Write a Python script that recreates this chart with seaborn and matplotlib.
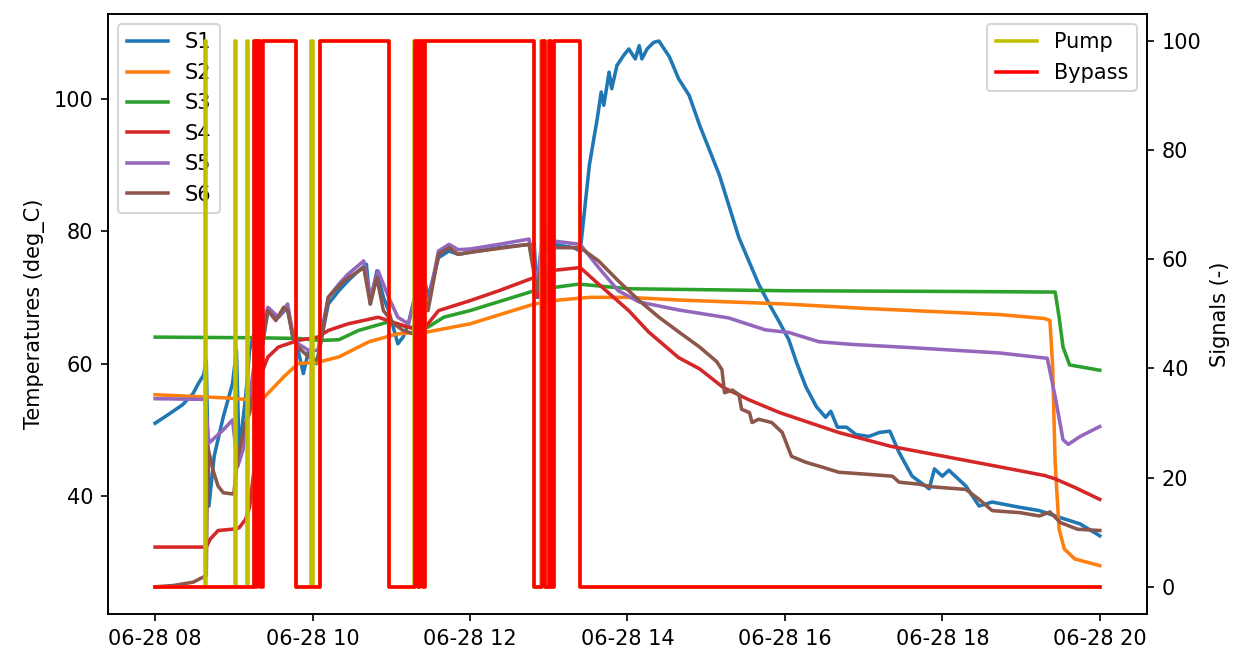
import matplotlib
matplotlib.use("Agg")
import matplotlib.pyplot as plt
import matplotlib.dates as mdates
import pandas as pd
import seaborn as sns

DAY = "2018-06-28 "

# temperatures (time of day, deg C)
s1_t = ["08:00", "08:10", "08:21", "08:29", "08:33", "08:37", "08:39", "08:41", "08:45", "08:52",
        "08:59", "09:02", "09:04", "09:09", "09:12", "09:16", "09:22", "09:26", "09:34", "09:41",
        "09:45", "09:49", "09:53", "09:57", "10:03", "10:06", "10:12", "10:20", "10:27", "10:35",
        "10:41", "10:44", "10:49", "10:54", "10:58", "11:05", "11:09", "11:13", "11:19", "11:25",
        "11:28", "11:36", "11:44", "11:51", "12:00", "12:22", "12:45", "12:49", "12:51", "12:56",
        "13:04", "13:19", "13:24", "13:31", "13:37", "13:40", "13:42", "13:46", "13:48", "13:52",
        "13:57", "14:01", "14:06", "14:09", "14:11", "14:15", "14:20", "14:24", "14:32", "14:39",
        "14:47", "14:55", "15:10", "15:25", "15:40", "15:48", "15:56",
        "16:03", "16:09", "16:16", "16:24", "16:31", "16:35", "16:40", "16:47", "16:54", "17:04",
        "17:12", "17:20", "17:27", "17:37", "17:50", "17:54", "18:00", "18:05", "18:18", "18:28",
        "18:38", "18:59", "19:14", "19:29", "19:45", "20:00"]
s1_v = [51.0, 52.3, 53.8, 55.5, 57.0, 58.3, 60.5, 38.5, 46.0, 52.0,
        57.0, 62.0, 46.5, 55.0, 62.0, 65.0, 63.0, 68.0, 67.0, 68.5,
        64.0, 62.0, 58.5, 62.0, 60.0, 63.0, 69.0, 71.0, 72.5, 74.0,
        75.0, 69.0, 74.0, 70.0, 68.0, 63.0, 64.0, 66.0, 71.0, 73.0,
        70.0, 76.0, 77.0, 76.5, 76.8, 77.5, 78.0, 78.0, 70.0, 77.0,
        78.0, 77.5, 77.0, 90.0, 97.0, 101.0, 99.0, 104.0, 101.5, 105.0,
        106.5, 107.5, 106.0, 108.0, 106.0, 107.5, 108.5, 108.7, 106.3, 103.0,
        100.5, 96.0, 88.5, 79.0, 72.0, 69.0, 66.2,
        63.6, 60.1, 56.5, 53.5, 51.9, 52.8, 50.4, 50.4, 49.3, 49.0,
        49.6, 49.8, 46.6, 43.0, 41.1, 44.1, 43.0, 43.9, 41.5, 38.5,
        39.1, 38.3, 37.8, 36.8, 35.8, 34.0]

s2_t = ["08:00", "08:56", "09:15", "09:20", "09:26", "09:38", "09:49", "10:04", "10:20", "10:43",
        "11:05", "11:28", "12:00", "12:49", "13:08", "13:31", "14:01", "14:39", "16:00", "17:04",
        "18:00", "18:44", "19:18", "19:22", "19:24", "19:26", "19:29", "19:33", "19:41", "20:00"]
s2_v = [55.3, 54.8, 54.5, 54.3, 55.5, 58.0, 60.0, 60.2, 61.0, 63.3,
        64.5, 64.8, 66.0, 69.0, 69.6, 70.0, 70.0, 69.6, 69.0, 68.3,
        67.8, 67.4, 66.8, 66.5, 60.0, 45.0, 35.0, 32.0, 30.5, 29.5]

s3_t = ["08:00", "09:15", "09:49", "10:06", "10:20", "10:35", "10:58", "11:13", "11:28", "11:40",
        "12:00", "12:49", "13:04", "13:23", "14:01", "16:00", "18:00", "19:26", "19:29", "19:32",
        "19:37", "20:00"]
s3_v = [64.0, 63.9, 63.8, 63.5, 63.6, 65.0, 66.3, 65.5, 65.5, 67.0,
        68.0, 71.0, 71.5, 72.0, 71.3, 71.0, 70.9, 70.8, 67.0, 62.5,
        59.8, 59.0]

s4_t = ["08:00", "08:39", "08:42", "08:48", "08:59", "09:04", "09:09", "09:12", "09:16", "09:20",
        "09:26", "09:34", "09:49", "10:04", "10:12", "10:27", "10:50", "11:05", "11:21", "11:28",
        "11:36", "12:00", "12:22", "12:49", "12:52", "13:00", "13:24", "13:38", "14:01", "14:16",
        "14:39", "14:55", "15:13", "15:33", "15:56", "16:41", "17:21", "18:04", "18:44", "19:18",
        "19:26", "19:41", "20:00"]
s4_v = [32.3, 32.3, 33.5, 34.8, 35.0, 35.2, 36.5, 38.3, 45.0, 58.0,
        61.0, 62.5, 63.5, 64.0, 65.0, 66.0, 67.0, 66.0, 65.0, 66.0,
        68.0, 69.5, 71.0, 73.0, 70.0, 74.0, 74.5, 72.0, 68.0, 64.8,
        60.9, 59.2, 56.4, 54.5, 52.6, 49.6, 47.5, 45.9, 44.4, 43.1,
        42.6, 41.3, 39.5]

s5_t = ["08:00", "08:38", "08:41", "08:52", "08:59", "09:03", "09:07", "09:12", "09:17", "09:22",
        "09:26", "09:34", "09:41", "09:45", "09:49", "09:57", "10:04", "10:12", "10:20", "10:27",
        "10:39", "10:44", "10:50", "10:58", "11:05", "11:13", "11:21", "11:28", "11:36", "11:44",
        "11:51", "12:00", "12:22", "12:45", "12:51", "12:56", "13:04", "13:24", "13:38", "13:53",
        "14:09", "14:39", "15:17", "15:45", "16:03", "16:26", "16:51", "17:37", "18:44", "19:20",
        "19:26", "19:32", "19:36", "19:45", "20:00"]
s5_v = [54.7, 54.6, 48.0, 50.0, 51.5, 44.5, 47.0, 55.0, 62.0, 66.0,
        68.5, 67.0, 69.0, 64.5, 63.0, 62.0, 62.0, 70.0, 72.0, 73.5,
        75.5, 70.0, 74.0, 70.0, 67.0, 66.0, 72.0, 69.0, 77.0, 78.0,
        77.2, 77.3, 78.0, 78.8, 72.0, 80.5, 78.5, 78.0, 74.5, 71.0,
        69.3, 68.1, 66.9, 65.1, 64.7, 63.3, 62.9, 62.4, 61.6, 60.8,
        55.0, 48.5, 47.8, 49.0, 50.5]

s6_t = ["08:00", "08:14", "08:29", "08:37", "08:39", "08:40", "08:44", "08:48", "08:52", "09:00",
        "09:03", "09:09", "09:12", "09:16", "09:20", "09:26", "09:32", "09:38", "09:41", "09:45",
        "09:49", "09:57", "10:04", "10:12", "10:24", "10:39", "10:44", "10:49", "10:54", "11:02",
        "11:09", "11:17", "11:21", "11:25", "11:28", "11:36", "11:44", "11:51", "12:00", "12:45",
        "12:51", "12:58", "13:04", "13:24", "13:38", "13:53", "14:09", "14:24", "14:39", "14:55",
        "15:08", "15:12", "15:14", "15:20", "15:25", "15:27", "15:33", "15:35", "15:40", "15:50",
        "15:58", "16:05", "16:16", "16:28", "16:41", "17:02", "17:22", "17:27", "17:42", "17:52",
        "18:18", "18:28", "18:38", "18:59", "19:14", "19:22", "19:30", "19:43", "20:00"]
s6_v = [26.3, 26.5, 27.0, 27.8, 28.0, 47.5, 44.0, 41.5, 40.5, 40.3,
        46.0, 51.0, 52.5, 57.0, 62.0, 68.0, 66.5, 68.5, 68.0, 64.0,
        62.5, 61.0, 60.5, 70.0, 72.5, 74.5, 69.0, 73.0, 68.0, 66.0,
        65.0, 64.5, 72.0, 70.0, 68.0, 76.5, 77.5, 76.5, 76.8, 78.0,
        71.0, 79.0, 77.5, 77.5, 75.5, 72.5, 69.5, 67.0, 64.8, 62.5,
        60.3, 59.1, 55.6, 56.0, 55.3, 53.1, 52.6, 51.1, 51.6, 51.1,
        49.6, 46.0, 45.1, 44.4, 43.6, 43.3, 43.0, 42.1, 41.8, 41.4,
        41.0, 39.5, 37.8, 37.5, 37.0, 37.6, 36.0, 35.0, 34.8]

# on/off signals, value holds until the next switch time
pump_t = ["08:00", "08:38", "08:39", "09:01", "09:02", "09:10", "09:11", "09:15", "09:47", "09:59",
          "10:00", "10:06", "10:58", "11:17", "11:20", "11:22", "11:24", "11:26", "12:49", "12:54",
          "12:57", "13:00", "13:02", "13:04", "13:24", "20:00"]
pump_v = [0, 100, 0, 100, 0, 100, 0, 100, 0, 100,
          0, 100, 0, 100, 0, 100, 0, 100, 0, 100,
          0, 100, 0, 100, 0, 0]

bypass_t = ["08:00", "09:15", "09:17", "09:18", "09:20", "09:22", "09:47", "10:06", "10:58", "11:18",
            "11:20", "11:22", "11:24", "11:26", "12:49", "12:55", "12:57", "13:00", "13:02", "13:04",
            "13:24", "20:00"]
bypass_v = [0, 100, 0, 100, 0, 100, 0, 100, 0, 100,
            0, 100, 0, 100, 0, 100, 0, 100, 0, 100,
            0, 0]


def to_time(times):
    return pd.to_datetime([DAY + t for t in times])


fig, ax = plt.subplots(figsize=(8.2667, 4.36), dpi=150)

temps = [("S1", s1_t, s1_v, "tab:blue"),
         ("S2", s2_t, s2_v, "tab:orange"),
         ("S3", s3_t, s3_v, "tab:green"),
         ("S4", s4_t, s4_v, "tab:red"),
         ("S5", s5_t, s5_v, "tab:purple"),
         ("S6", s6_t, s6_v, "tab:brown")]
for name, t, v, c in temps:
    sns.lineplot(x=to_time(t), y=v, ax=ax, label=name, color=c,
                 estimator=None, linewidth=1.7)

ax2 = ax.twinx()
sns.lineplot(x=to_time(pump_t), y=pump_v, ax=ax2, label="Pump", color="y",
             estimator=None, linewidth=1.7, drawstyle="steps-post")
sns.lineplot(x=to_time(bypass_t), y=bypass_v, ax=ax2, label="Bypass", color="r",
             estimator=None, linewidth=1.7, drawstyle="steps-post")

ax.set_xlabel("")
ax.set_ylabel("Temperatures (deg_C)")
ax2.set_ylabel("Signals (-)")
ax.set_yticks([40, 60, 80, 100])
ax2.set_yticks([0, 20, 40, 60, 80, 100])

ax.xaxis.set_major_locator(mdates.HourLocator(byhour=range(8, 21, 2)))
ax.xaxis.set_major_formatter(mdates.DateFormatter("%m-%d %H"))

ax.legend(loc="upper left")
ax2.legend(loc="upper right")

plt.subplots_adjust(left=0.087, right=0.925, top=0.979, bottom=0.061)
plt.savefig("out.png", dpi=150)
